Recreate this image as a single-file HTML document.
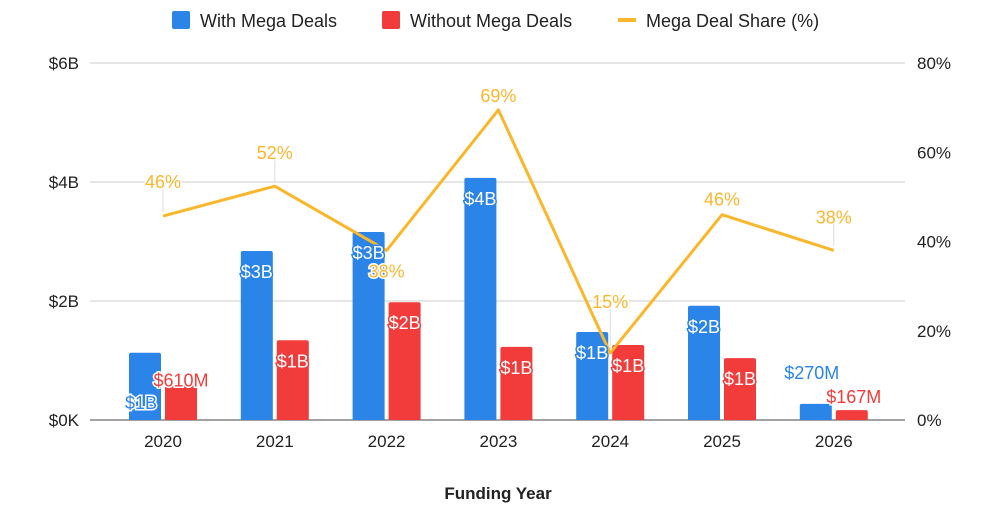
<!DOCTYPE html>
<html><head><meta charset="utf-8"><style>
body{margin:0;background:#fff;font-family:"Liberation Sans",Arial,sans-serif}
svg text{font-family:"Liberation Sans",Arial,sans-serif}
</style></head><body>
<svg id="chart" width="995" height="520" xmlns="http://www.w3.org/2000/svg"></svg>
<script>
const categories=["2020","2021","2022","2023","2024","2025","2026"];
const withMega=[1.13,2.84,3.16,4.07,1.48,1.92,0.27];
const withoutMega=[0.61,1.34,1.98,1.23,1.26,1.04,0.167];
const megaShare=[45.7,52.4,38,69.5,15,46,38];
const withLabels=["$1B","$3B","$3B","$4B","$1B","$2B","$270M"];
const withoutLabels=["$610M","$1B","$2B","$1B","$1B","$1B","$167M"];
const shareLabels=["46%","52%","38%","69%","15%","46%","38%"];
const leftTicks=["$0K","$2B","$4B","$6B"];
const rightTicks=["0%","20%","40%","60%","80%"];

const NS="http://www.w3.org/2000/svg";
const svg=document.getElementById('chart');
const top0=63,bot=420,xl=90,xr=905;
const yL=v=>bot-(v/6)*(bot-top0);
const yR=p=>bot-(p/80)*(bot-top0);
const xC=i=>163+i*111.8;
function el(t,a,p){const e=document.createElementNS(NS,t);for(const k in a)e.setAttribute(k,a[k]);(p||svg).appendChild(e);return e;}
function txt(s,a,p){const e=el('text',a,p);e.textContent=s;return e;}

leftTicks.forEach((t,i)=>{const y=yL(i*2);
 const g=el('line',{x1:xl,x2:xr,y1:y,y2:y,stroke:i==0?'#444':'#ccc','stroke-width':1});
 
 
 const l=txt(t,{x:79,y:y+6,'text-anchor':'end','font-size':17,fill:'#222'});
 
 
});
rightTicks.forEach((t,i)=>{const y=yR(i*20);
 const l=txt(t,{x:917,y:y+6,'text-anchor':'start','font-size':17,fill:'#222'});
 
 
});
categories.forEach((c,i)=>{
 const l=txt(c,{x:xC(i),y:447,'text-anchor':'middle','font-size':17,fill:'#222'});
 
 
});
const bw=32;
function bar(x,v,col,name){const y=yL(v);
 const r=el('path',{d:`M${x},${bot} V${y+2} Q${x},${y} ${x+2},${y} H${x+bw-2} Q${x+bw},${y} ${x+bw},${y+2} V${bot} Z`,fill:col});
 
 
}
categories.forEach((c,i)=>{
 bar(xC(i)-34,withMega[i],'#2b84e8','bar-with-mega-'+c);
 bar(xC(i)+2,withoutMega[i],'#f23c3c','bar-without-mega-'+c);
});
const pts=megaShare.map((p,i)=>xC(i)+','+yR(p)).join(' ');
const ln=el('polyline',{points:pts,fill:'none',stroke:'#fbb72c','stroke-width':3,'stroke-linejoin':'round'});


const shareOff=[-35,-34,20,-15,-52,-16,-34];
megaShare.forEach((p,i)=>{const y=yR(p);
 if(shareOff[i]<-20){const l=el('line',{x1:xC(i),x2:xC(i),y1:y+shareOff[i]+6,y2:y-4,stroke:'#ddd','stroke-width':1});
  
  }
 const t=txt(shareLabels[i],{x:xC(i),y:y+shareOff[i]+7,'text-anchor':'middle','font-size':18,fill:'#fbb72c',stroke:'#fff','stroke-width':3,'paint-order':'stroke'});
 
 
});
function blabel(s,x,y,inside,col){
 const t=txt(s,{x:x,y:y,'text-anchor':'middle','font-size':18,fill:inside?'#fff':col,stroke:inside?col:'#fff','stroke-width':3,'paint-order':'stroke'});
 
 
}
categories.forEach((c,i)=>{
 const bx=xC(i)-18,rx=xC(i)+18;
 if(i==0) blabel(withLabels[i],bx-4,bot-11,false,'#2b84e8');
 else if(i==6) blabel(withLabels[i],bx-4,yL(withMega[i])-25,false,'#2b84e8');
 else blabel(withLabels[i],bx,yL(withMega[i])+27,true,'#2b84e8');
 if(i==0) blabel(withoutLabels[i],rx,yL(withoutMega[i])+3,false,'#f23c3c');
 else if(i==6) blabel(withoutLabels[i],rx+2,yL(withoutMega[i])-7,false,'#f23c3c');
 else blabel(withoutLabels[i],rx,yL(withoutMega[i])+27,true,'#f23c3c');
});
const lg=el('g',{});


const e1=el('rect',{x:172,y:11,width:18,height:18,rx:2,fill:'#2b84e8'},lg);


txt('With Mega Deals',{x:200,y:27,'font-size':18,fill:'#222'},lg);
const e2=el('rect',{x:382,y:11,width:18,height:18,rx:2,fill:'#f23c3c'},lg);


txt('Without Mega Deals',{x:410,y:27,'font-size':18,fill:'#222'},lg);
const e3=el('rect',{x:618,y:18,width:18,height:4,fill:'#fbb72c'},lg);


txt('Mega Deal Share (%)',{x:646,y:27,'font-size':18,fill:'#222'},lg);
const xt=txt('Funding Year',{x:498,y:499,'text-anchor':'middle','font-size':17,'font-weight':'bold',fill:'#222'});


</script>
</body></html>
